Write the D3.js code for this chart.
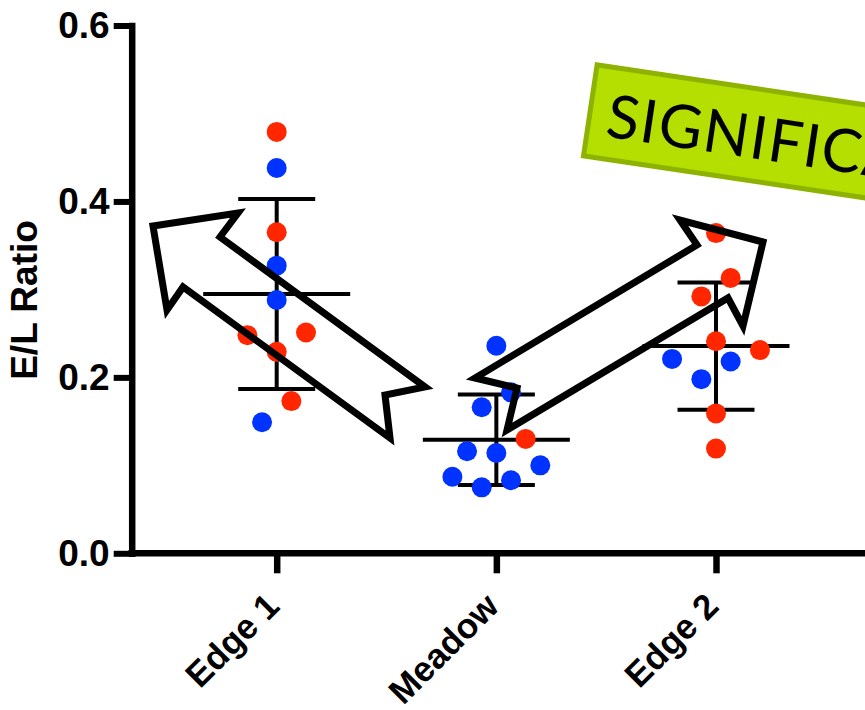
<!DOCTYPE html>
<meta charset="utf-8">
<style>
body { margin: 0; background: #fff; }
svg { display: block; }
text { font-family: "Liberation Sans", Arial, Helvetica, sans-serif; }
</style>
<svg width="865" height="710"></svg>
<script src="https://d3js.org/d3.v7.min.js"></script>
<script>
var width = 865
var height = 710

var groups = ["Edge 1", "Meadow", "Edge 2"]
var yTicks = [0, 0.2, 0.4, 0.6]

// E/L ratio of every plot, split by dot colour
var edge1Red = [0.479, 0.365, 0.251, 0.248, 0.229, 0.173]
var edge1Blue = [0.438, 0.327, 0.288, 0.149]
var meadowRed = [0.130]
var meadowBlue = [0.236, 0.183, 0.166, 0.116, 0.114, 0.100, 0.087, 0.083, 0.075]
var edge2Red = [0.364, 0.313, 0.292, 0.241, 0.231, 0.159, 0.119]
var edge2Blue = [0.221, 0.218, 0.198]

var columns = [
  { name: "Edge 1", red: edge1Red, blue: edge1Blue },
  { name: "Meadow", red: meadowRed, blue: meadowBlue },
  { name: "Edge 2", red: edge2Red, blue: edge2Blue }
]

var RED = "#ff2600"
var BLUE = "#0033ff"

var svg = d3.select('svg')
  .attr('width', width)
  .attr('height', height)

var y = d3.scaleLinear().domain([0, 0.6]).range([553.3, 25.5])
var x = d3.scalePoint().domain(groups).range([276.7, 716])

// prism-like column scatter: rows are built from the bottom up,
// dots in a row are spread from the outside in, right first
function swarm(values) {
  var pts = values.map(function (d) { return { v: d.v, color: d.color, py: y(d.v) } })
  pts.sort(function (a, b) { return b.py - a.py })
  var rows = [], row = null
  pts.forEach(function (p) {
    if (!row || row[0].py - p.py > 31) {
      row = [p]
      rows.push(row)
    } else {
      row.push(p)
    }
  })
  rows.forEach(function (r) {
    r.sort(function (a, b) { return a.py - b.py })
    var n = r.length
    var slots = d3.range(n).map(function (k) { return k - (n - 1) / 2 })
    var order = []
    var lo = 0, hi = n - 1
    while (lo <= hi) {
      order.push(slots[hi])
      if (lo !== hi) order.push(slots[lo])
      hi--
      lo++
    }
    r.forEach(function (p, i) { p.dx = order[i] * 29.3 })
  })
  return pts
}

var barGroup = svg.append('g').attr('class', 'bars')
var dotGroup = svg.append('g').attr('class', 'dots')

columns.forEach(function (col) {
  var all = col.red.map(function (v) { return { v: v, color: RED } })
    .concat(col.blue.map(function (v) { return { v: v, color: BLUE } }))
  var vals = all.map(function (d) { return d.v })
  var m = d3.mean(vals)
  var sd = d3.deviation(vals)
  var cx = x(col.name)

  var g = barGroup.append('g').attr('stroke', '#000').attr('stroke-width', 4)
  g.append('line')
    .attr('x1', cx).attr('x2', cx)
    .attr('y1', y(m + sd)).attr('y2', y(m - sd))
  g.selectAll('line.cap')
    .data([m + sd, m - sd])
    .enter().append('line')
    .attr('class', 'cap')
    .attr('x1', cx - 38.5).attr('x2', cx + 38.5)
    .attr('y1', function (d) { return y(d) })
    .attr('y2', function (d) { return y(d) })
  g.append('line')
    .attr('x1', cx - 73.5).attr('x2', cx + 73.5)
    .attr('y1', y(m)).attr('y2', y(m))

  dotGroup.selectAll(null)
    .data(swarm(all))
    .enter().append('circle')
    .attr('cx', function (d) { return cx + d.dx })
    .attr('cy', function (d) { return d.py })
    .attr('r', 10)
    .attr('fill', function (d) { return d.color })
})

// axes
var yAxis = svg.append('g')
  .attr('transform', 'translate(131.7,0)')
  .call(d3.axisLeft(y).tickValues(yTicks).tickFormat(d3.format('.1f')).tickSize(18).tickPadding(4).tickSizeOuter(0))
yAxis.select('.domain').attr('stroke-width', 6.5).attr('stroke-linecap', 'square')
yAxis.selectAll('.tick line').attr('stroke-width', 6)
yAxis.selectAll('.tick text')
  .attr('font-size', 37)
  .attr('font-weight', 'bold')
  .attr('fill', '#000')

var xAxis = svg.append('g')
  .attr('transform', 'translate(0,553.3)')
  .call(d3.axisBottom(x).tickSize(20).tickSizeOuter(0))
xAxis.select('.domain').remove()
xAxis.append('line')
  .attr('x1', 128.5).attr('x2', width)
  .attr('stroke', '#000').attr('stroke-width', 6.5)
xAxis.selectAll('.tick line').attr('stroke-width', 6.5)
xAxis.selectAll('.tick text')
  .attr('x', 0).attr('y', 0).attr('dy', null)
  .attr('transform', 'translate(4,55) rotate(-45)')
  .attr('text-anchor', 'end')
  .attr('font-size', 35)
  .attr('font-weight', 'bold')
  .attr('fill', '#000')

svg.append('text')
  .attr('transform', 'translate(37,300) rotate(-90)')
  .attr('text-anchor', 'middle')
  .attr('font-size', 37)
  .attr('font-weight', 'bold')
  .text('E/L Ratio')

// hollow arrows drawn on top
var arrows = [
  [[153, 226], [238, 213], [220, 237], [425, 387], [385, 395], [390, 438], [183, 287], [167, 310]],
  [[763, 242], [680, 220], [697, 245], [475, 378], [517, 388], [507, 430], [728, 298], [743, 326]]
]
svg.append('g').attr('class', 'arrows')
  .selectAll('polygon')
  .data(arrows)
  .enter().append('polygon')
  .attr('points', function (d) { return d.join(' ') })
  .attr('fill', 'none')
  .attr('stroke', '#000')
  .attr('stroke-width', 7)
  .attr('stroke-linejoin', 'miter')

var badge = svg.append('g').attr('transform', 'translate(595,62) rotate(8.5)')
badge.append('rect')
  .attr('x', 2.5).attr('y', 2.5)
  .attr('width', 420).attr('height', 92)
  .attr('fill', '#b4df00')
  .attr('stroke', '#8db300')
  .attr('stroke-width', 5)
badge.append('text')
  .attr('x', 20).attr('y', 72)
  .attr('font-size', 60)
  .style('font-family', 'Lato, "Open Sans", sans-serif')
  .style('font-weight', 400)
  .style('letter-spacing', '1.5px')
  .text('SIGNIFICANT')
</script>
